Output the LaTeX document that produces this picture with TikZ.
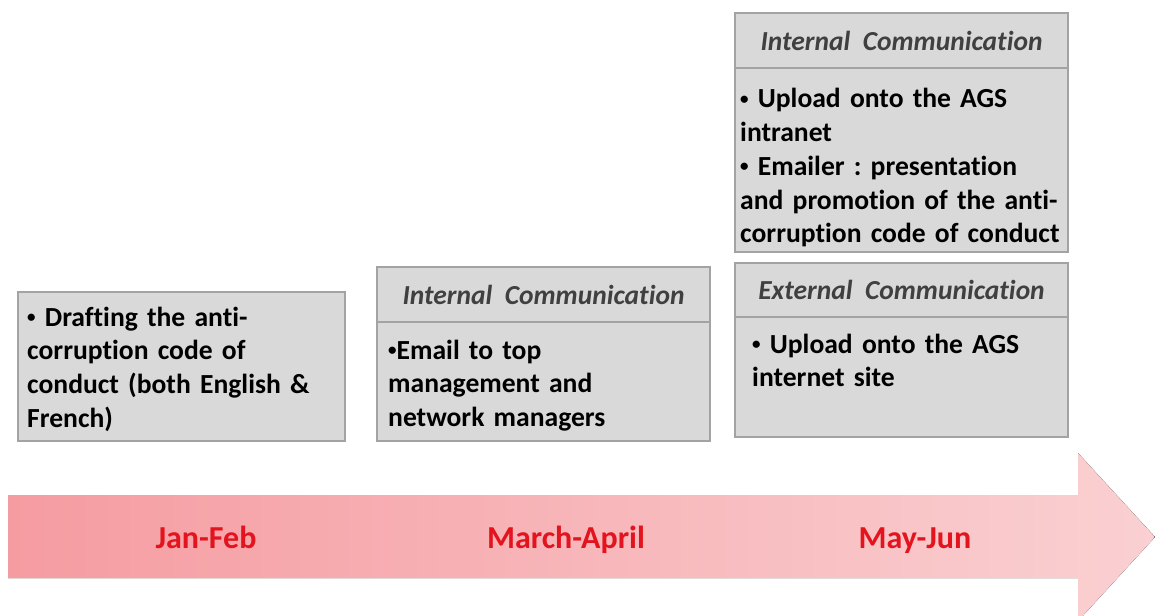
\documentclass[tikz,border=0pt]{standalone}
\usepackage{fontspec}
\setmainfont{Carlito}[Ligatures=NoCommon]
\frenchspacing
\definecolor{boxfill}{HTML}{D9D9D9}
\definecolor{boxline}{HTML}{A3A3A3}
\definecolor{headtext}{HTML}{404040}
\definecolor{labred}{HTML}{E3141E}
\definecolor{arrL}{HTML}{F59CA1}
\definecolor{arrR}{HTML}{FAD0D2}
\newcommand\bul{\raisebox{0.28ex}{\fontsize{17}{17}\selectfont•}}
\tikzset{
  box/.style={draw=boxline, line width=1.3pt, fill=boxfill, anchor=north west, inner sep=0pt, outer sep=0pt},
  bodytext/.style={anchor=base west, inner sep=0pt, align=left, text width=330pt,
    font=\fontsize{27.6}{33.7}\selectfont\bfseries},
  headtext/.style={text=headtext, inner sep=0pt, font=\fontsize{27.5}{33}\selectfont\bfseries\itshape},
  period/.style={text=labred, inner sep=0pt, anchor=base, font=\fontsize{32}{36}\selectfont\bfseries},
}
\begin{document}
\begin{tikzpicture}[x=1pt,y=-1pt]
\useasboundingbox (0,0) rectangle (1155,615);
\clip (0,0) rectangle (1155,615);
% timeline arrow
\fill[left color=arrL, right color=arrR]
  (8,495) -- (1078,495) -- (1078,453) -- (1155,537) -- (1078,621) -- (1078,578) -- (8,578) -- cycle;
\node[period] (l1) at (206,548) {Jan-Feb};
\node[period] (l2) at (566,548) {March-April};
\node[period] (l3) at (915,548) {May-Jun};
% box 1
\node[box, minimum width=327pt, minimum height=149pt] (b1) at (18,292) {};
\node[bodytext] (t1) at ([xshift=9pt, yshift=-34pt]b1.north west)
  {\bul\ Drafting the anti-\\corruption code of\\conduct (both English \&\\French)};
% box 2
\node[box, minimum width=333pt, minimum height=55pt] (h2) at (377,267) {};
\node[headtext] at (h2.center) {Internal\ \ Communication};
\node[box, minimum width=333pt, minimum height=119pt] (b2) at (377,322) {};
\node[bodytext] (t2) at ([xshift=11pt, yshift=-37pt]b2.north west)
  {\bul Email to top\\management and\\network managers};
% box 3
\node[box, minimum width=333pt, minimum height=55pt] (h3) at (735,13) {};
\node[headtext] at (h3.center) {Internal\ \ Communication};
\node[box, minimum width=333pt, minimum height=184pt] (b3) at (735,68) {};
\node[bodytext] (t3) at ([xshift=5pt, yshift=-40pt]b3.north west)
  {\bul\ Upload onto the AGS\\intranet\\\bul\ Emailer : presentation\\and promotion of the anti-\\corruption code of conduct};
% box 4
\node[box, minimum width=333pt, minimum height=54pt] (h4) at (735,263) {};
\node[headtext] at (h4.center) {External\ \ Communication};
\node[box, minimum width=333pt, minimum height=120pt] (b4) at (735,317) {};
\node[bodytext] (t4) at ([xshift=17pt, yshift=-36pt]b4.north west)
  {\bul\ Upload onto the AGS\\internet site};
\end{tikzpicture}
\end{document}
